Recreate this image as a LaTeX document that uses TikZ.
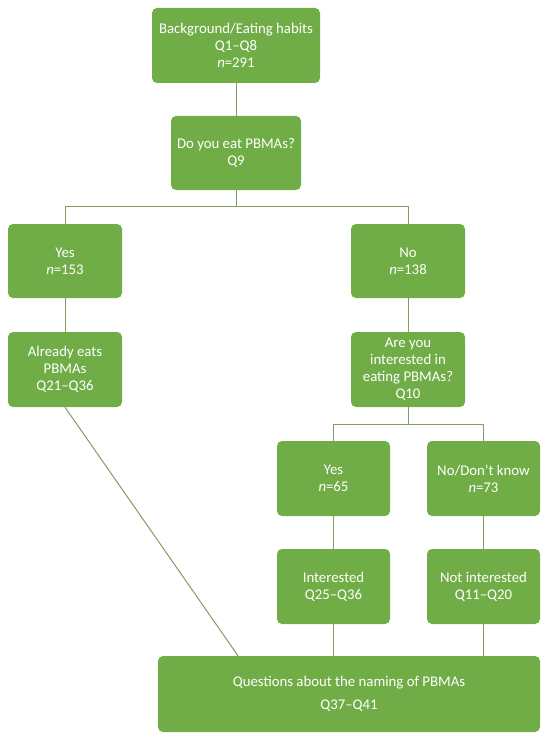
\documentclass[tikz,border=0pt]{standalone}
\usepackage{fontspec}
\setmainfont{Carlito}
\definecolor{boxgreen}{HTML}{70AD47}
\definecolor{linegreen}{HTML}{7F9E66}

\begin{document}
\begin{tikzpicture}[x=1pt, y=-1pt,
		box/.style={fill=boxgreen, rounded corners=5pt, text=white, align=center,
			inner sep=0pt, minimum width=114pt, minimum height=75pt,
			font=\fontsize{14.8}{17}\selectfont},
		link/.style={draw=linegreen, line width=1pt}]
			\useasboundingbox (0, 0) rectangle (550, 741);
			
			\node[box, minimum width=168pt] (habits) at (236, 45.5) {Background/Eating habits\\Q1–Q8\\\textit{n}=291};
			\node[box, minimum width=130pt, minimum height=74pt] (eat) at (236, 153) {Do you eat PBMAs?\\Q9};
			
			\node[box, minimum height=74pt] (yes) at (65, 261) {Yes\\\textit{n}=153};
			\node[box, minimum height=74pt] (no) at (408, 261) {No\\\textit{n}=138};
			\node[box] (already) at (65, 369.5) {Already eats\\PBMAs\\Q21–Q36};
			\node[box] (interest) at (408, 369.5) {Are you\\interested in\\eating PBMAs?\\Q10};
			
			\node[box, minimum width=113pt] (yesint) at (333.5, 478.5) {Yes\\\textit{n}=65};
			\node[box, minimum width=113pt] (dontknow) at (483.5, 478.5) {No/Don't know\\\textit{n}=73};
			\node[box, minimum width=113pt] (interested) at (333.5, 586.5) {Interested\\Q25–Q36};
			\node[box, minimum width=113pt] (notinterested) at (483.5, 586.5) {Not interested\\Q11–Q20};
			
			\node[box, minimum width=382pt, minimum height=76pt] (naming) at (349, 694) {Questions about the naming of PBMAs\\[6pt]Q37–Q41};
			
			\coordinate (split1) at (236, 206);
			\coordinate (split2) at (408, 424);
			
			\draw[link] (habits) -- (eat);
			\draw[link] (eat) -- (split1);
			\draw[link] (split1) -| (yes);
			\draw[link] (split1) -| (no);
			\draw[link] (yes) -- (already);
			\draw[link] (no) -- (interest);
			\draw[link] (interest) -- (split2);
			\draw[link] (split2) -| (yesint);
			\draw[link] (split2) -| (dontknow);
			\draw[link] (yesint) -- (interested);
			\draw[link] (dontknow) -- (notinterested);
			\draw[link] (already.south) -- (naming.161.6);
			\draw[link] (interested.south) -- (interested.south |- naming.north);
			\draw[link] (notinterested.south) -- (notinterested.south |- naming.north);
		\end{tikzpicture}
\end{document}
